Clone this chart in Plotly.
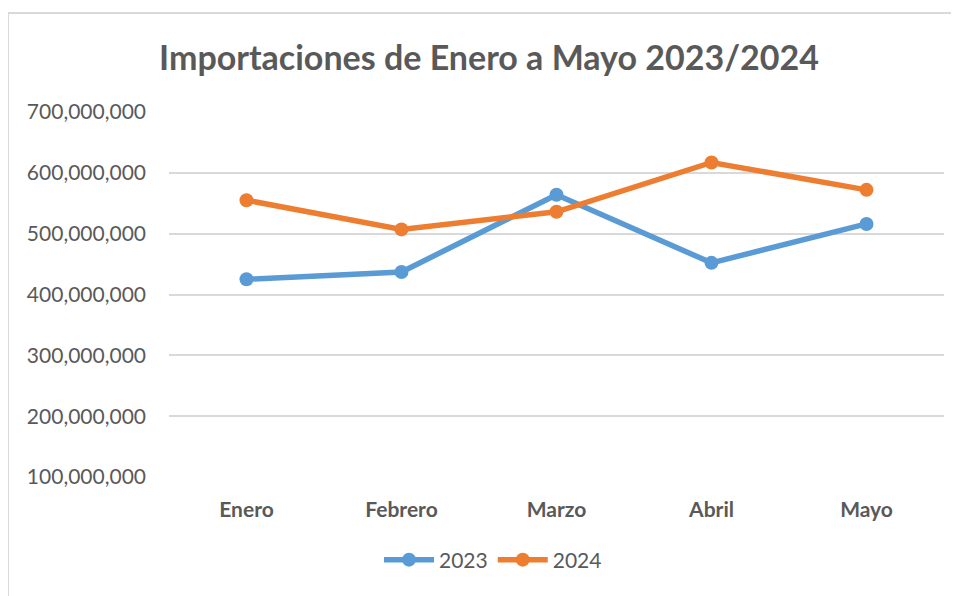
import plotly.graph_objects as go

categories = ["Enero", "Febrero", "Marzo", "Abril", "Mayo"]
values_2023 = [425_000_000, 437_000_000, 564_000_000, 452_000_000, 516_000_000]
values_2024 = [555_000_000, 507_000_000, 536_000_000, 617_000_000, 572_000_000]
y_ticks = [100_000_000, 200_000_000, 300_000_000, 400_000_000, 500_000_000, 600_000_000, 700_000_000]
title_text = "Importaciones de Enero a Mayo 2023/2024"

BLUE = "#5B9BD5"
ORANGE = "#ED7D31"
GRAY_TEXT = "#595959"
GRID = "#D9D9D9"
FONT = "Lato"

fig = go.Figure()
fig.add_trace(go.Scatter(
    x=categories, y=values_2023, name="2023", mode="lines+markers",
    line=dict(color=BLUE, width=5.5), marker=dict(color=BLUE, size=14),
))
fig.add_trace(go.Scatter(
    x=categories, y=values_2024, name="2024", mode="lines+markers",
    line=dict(color=ORANGE, width=5.5), marker=dict(color=ORANGE, size=14),
))

# page offset (body margin) of 8px
OFF = 8
W, H = 959, 596
# target plot area in page coordinates
PL, PR, PT, PB = 169, 944, 112, 477
L = PL - OFF
R = W - (PR - OFF)
T = PT - OFF
B = H - (PB - OFF)
pw = W - L - R
ph = H - T - B

def px_x(x):
    return (x - OFF - L) / pw

def px_y(y):
    return (H - B - (y - OFF)) / ph

fig.update_layout(
    width=W, height=H,
    margin=dict(l=L, r=R, t=T, b=B, pad=0),
    paper_bgcolor="white", plot_bgcolor="white",
    font=dict(family=FONT, color=GRAY_TEXT, size=20),
    title=dict(
        text="<b>" + title_text + "</b>",
        font=dict(family=FONT, size=34, color=GRAY_TEXT),
        x=px_x(489), xref="paper", xanchor="center",
        y=1 - (58 - OFF) / H, yref="container", yanchor="middle",
    ),
    xaxis=dict(
        type="category", range=[-0.5, 4.5],
        showgrid=False, zeroline=False, showline=False,
        ticks="", tickfont=dict(family=FONT, size=21, color=GRAY_TEXT, weight="bold"),
        ticklabelstandoff=18,
    ),
    yaxis=dict(
        range=[100_000_000, 700_000_000], tickvals=y_ticks, tickformat=",d",
        showgrid=True, gridcolor=GRID, gridwidth=2, zeroline=False, showline=False,
        ticks="", tickfont=dict(family=FONT, size=21, color=GRAY_TEXT),
        ticklabelstandoff=22,
    ),
    legend=dict(
        orientation="h", x=px_x(493), xanchor="center",
        y=px_y(560), yanchor="middle",
        font=dict(family=FONT, size=21, color=GRAY_TEXT),
        itemwidth=50,
    ),
    showlegend=True,
    shapes=[dict(
        type="rect", xref="paper", yref="paper",
        x0=px_x(8), x1=px_x(975), y0=px_y(610), y1=px_y(13),
        line=dict(color=GRID, width=2), fillcolor="rgba(0,0,0,0)", layer="below",
    )],
)

fig.write_html("out.html")
